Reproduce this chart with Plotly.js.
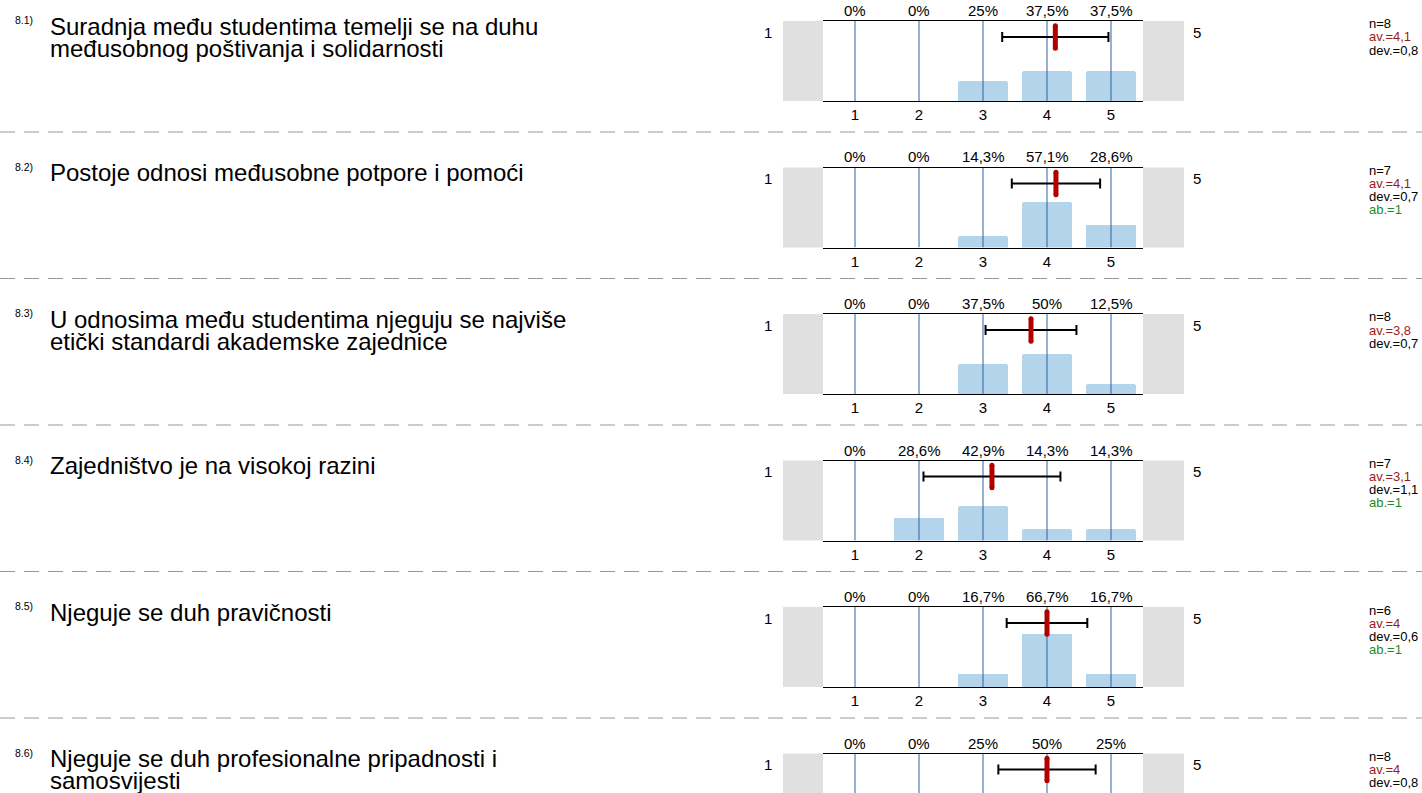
<!DOCTYPE html>
<html><head><meta charset="utf-8">
<script src="https://cdn.plot.ly/plotly-3.0.1.min.js"></script>
<style>html,body{margin:0;padding:0;background:#fff;} #chart{width:1422px;height:793px;}</style>
</head><body><div id="chart"></div>
<script>
// ---- data ----
const qNums = ["8.1)", "8.2)", "8.3)", "8.4)", "8.5)", "8.6)"];
const questions = [
  "Suradnja među studentima temelji se na duhu<br>međusobnog poštivanja i solidarnosti",
  "Postoje odnosi međusobne potpore i pomoći",
  "U odnosima među studentima njeguju se najviše<br>etički standardi akademske zajednice",
  "Zajedništvo je na visokoj razini",
  "Njeguje se duh pravičnosti",
  "Njeguje se duh profesionalne pripadnosti i<br>samosvijesti"
];
const scale = [1, 2, 3, 4, 5];
const pct1 = [0, 0, 25, 37.5, 37.5];
const pct2 = [0, 0, 14.3, 57.1, 28.6];
const pct3 = [0, 0, 37.5, 50, 12.5];
const pct4 = [0, 28.6, 42.9, 14.3, 14.3];
const pct5 = [0, 0, 16.7, 66.7, 16.7];
const pct6 = [0, 0, 25, 50, 25];
const pcts = [pct1, pct2, pct3, pct4, pct5, pct6];
const nVals = [8, 7, 8, 7, 6, 8];
const avLabels = ["4,1", "4,1", "3,8", "3,1", "4", "4"];
const devLabels = ["0,8", "0,7", "0,7", "1,1", "0,6", "0,8"];
const abVals = [null, 1, null, 1, 1, null];
const means = [4.13, 4.14, 3.75, 3.14, 4.0, 4.0];
const stds = [0.83, 0.69, 0.71, 1.07, 0.63, 0.76];
const leftLabel = "1", rightLabel = "5";

// ---- layout constants ----
const W = 1422, H = 793;
const FONT = '"Liberation Sans", Arial, sans-serif';
const PLOT_L = 823, PLOT_R = 1143, PH = 80, TOP0 = 21, STEP = 146.5;
const ERR_Y = 80, MEAN_LO = 66, MEAN_HI = 94;
const px = p => p / W, py = p => 1 - p / H;

const data = [], shapes = [], annotations = [];
const layout = {
  width: W, height: H, margin: {l: 0, r: 0, t: 0, b: 0},
  paper_bgcolor: '#fff', plot_bgcolor: 'rgba(0,0,0,0)',
  showlegend: false, font: {family: FONT, color: '#000'},
  bargap: 0, hovermode: false
};
function ann(text, x, y, size, color, xanchor, yanchor) {
  annotations.push({text, x: px(x), y: py(y), xref: 'paper', yref: 'paper', showarrow: false,
    xanchor: xanchor || 'left', yanchor: yanchor || 'middle', font: {size, color: color || '#000', family: FONT}, borderpad: 0});
}
const fmtPct = v => (v === 0 ? '0' : String(v).replace('.', ',')) + '%';

for (let i = 0; i < 6; i++) {
  const k = i + 1, sfx = k === 1 ? '' : String(k);
  const xa = 'x' + sfx, ya = 'y' + sfx;
  const top = TOP0 + i * STEP, bot = top + PH;
  const full = bot <= H;
  const visBot = Math.min(bot, H);
  const yr0 = 100 - (visBot - top) / PH * 100;
  layout['xaxis' + sfx] = {
    domain: [px(PLOT_L), px(PLOT_R)], range: [0.5, 5.5], anchor: ya,
    tickvals: scale, ticktext: scale.map(String), showgrid: false, zeroline: false,
    showline: true, linecolor: '#000', linewidth: 1, mirror: full, side: full ? 'bottom' : 'top',
    showticklabels: full, ticks: '', tickfont: {size: 15, color: '#000', family: FONT}, fixedrange: true
  };
  layout['yaxis' + sfx] = {domain: [py(visBot), py(top)], range: [yr0, 100], anchor: xa, visible: false, fixedrange: true};

  // bars
  data.push({type: 'bar', x: scale, y: pcts[i], xaxis: xa, yaxis: ya, width: 0.79,
    marker: {color: '#b4d4ec', cornerradius: 3, line: {width: 0}}, hoverinfo: 'skip'});
  // grid lines over bars
  data.push({type: 'scatter', mode: 'lines', xaxis: xa, yaxis: ya,
    x: scale.flatMap(v => [v, v, null]), y: scale.flatMap(() => [yr0, 100, null]),
    line: {color: '#2c63a3', width: 1}, hoverinfo: 'skip'});
  // std whisker
  data.push({type: 'scatter', mode: 'markers', xaxis: xa, yaxis: ya, x: [means[i]], y: [ERR_Y],
    marker: {size: 1, color: 'rgba(0,0,0,0)'},
    error_x: {type: 'data', array: [stds[i]], visible: true, color: '#000', thickness: 2, width: 5}, hoverinfo: 'skip'});
  // mean marker
  data.push({type: 'scatter', mode: 'lines+markers', xaxis: xa, yaxis: ya, x: [means[i], means[i]], y: [MEAN_LO, MEAN_HI],
    line: {color: '#b00000', width: 5}, marker: {size: 5, color: '#b00000'}, hoverinfo: 'skip'});

  // gray side boxes
  shapes.push({type: 'rect', xref: 'paper', yref: 'paper', x0: px(783), x1: px(PLOT_L), y0: py(visBot), y1: py(top),
    fillcolor: '#e0e0e0', line: {width: 0}, layer: 'below'});
  shapes.push({type: 'rect', xref: 'paper', yref: 'paper', x0: px(PLOT_R), x1: px(1184), y0: py(visBot), y1: py(top),
    fillcolor: '#e0e0e0', line: {width: 0}, layer: 'below'});
  // dashed separator
  if (top + 111 < H) {
    shapes.push({type: 'line', xref: 'paper', yref: 'paper', x0: 0, x1: 1, y0: py(top + 111), y1: py(top + 111),
      line: {color: '#999', width: 1, dash: '15px,9px'}});
  }

  // percent labels
  pcts[i].forEach((v, j) => {
    annotations.push({text: fmtPct(v), x: scale[j], y: 1, xref: xa, yref: ya + ' domain', showarrow: false,
      xanchor: 'center', yanchor: 'bottom', yshift: 1, font: {size: 15, color: '#000', family: FONT}, borderpad: 0});
  });
  // scale end labels
  ann(leftLabel, 768, top + 11, 15, '#000', 'center');
  ann(rightLabel, 1197, top + 11, 15, '#000', 'center');
  // question
  ann(qNums[i], 14, top - 1, 10.5, '#000', 'left');
  questions[i].split('<br>').forEach((line, j) => ann(line, 49, top + 5 + j * 22, 24, '#000', 'left'));
  // stats
  ann('n=' + nVals[i], 1368, top + 3, 13, '#000');
  ann('av.=' + avLabels[i], 1368, top + 16, 13, '#9b1b1b');
  ann('dev.=' + devLabels[i], 1368, top + 29, 13, '#000');
  if (abVals[i] !== null) ann('ab.=' + abVals[i], 1368, top + 42, 13, '#1c8a1c');
}
layout.shapes = shapes;
layout.annotations = annotations;
Plotly.newPlot('chart', data, layout, {staticPlot: true, displayModeBar: false});
</script>
</body></html>
